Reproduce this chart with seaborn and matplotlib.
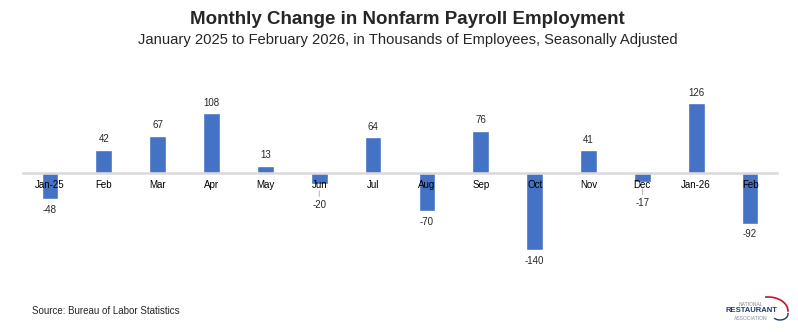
import matplotlib
matplotlib.use("Agg")
import matplotlib.pyplot as plt
import seaborn as sns
import pandas as pd
from matplotlib.patches import Arc

months = ["Jan-25", "Feb", "Mar", "Apr", "May", "Jun", "Jul", "Aug",
          "Sep", "Oct", "Nov", "Dec", "Jan-26", "Feb"]
changes = [-48, 42, 67, 108, 13, -20, 64, -70, 76, -140, 41, -17, 126, -92]

title = "Monthly Change in Nonfarm Payroll Employment"
subtitle = "January 2025 to February 2026, in Thousands of Employees, Seasonally Adjusted"
source = "Source: Bureau of Labor Statistics"

sns.set_theme(style="white")
plt.rcParams["font.family"] = ["Liberation Sans", "DejaVu Sans"]
narrow = ["Liberation Sans Narrow", "Liberation Sans", "DejaVu Sans"]

df = pd.DataFrame({"pos": list(range(len(months))), "change": changes})

fig = plt.figure(figsize=(7.98, 3.32), dpi=100)
ax = fig.add_axes([23 / 798, 1 - 290 / 332, 754 / 798, 230 / 332])

sns.barplot(data=df, x="pos", y="change", color="#4472C4", saturation=1,
            width=0.31, ax=ax, native_scale=False)

ax.set_xlim(-0.5, len(months) - 0.5)
ax.set_ylim(-212, 204)
for s in ["top", "right", "left"]:
    ax.spines[s].set_visible(False)
ax.spines["bottom"].set_position(("data", 0))
ax.spines["bottom"].set_color("#d9d9d9")
ax.spines["bottom"].set_linewidth(1.8)
ax.set_axisbelow(False)
ax.set_yticks([])
ax.set_xticks(range(len(months)))
ax.set_xticklabels(months, fontsize=7, color="#000000")
ax.tick_params(axis="x", length=0, pad=5)
ax.set_xlabel("")
ax.set_ylabel("")

for i, v in enumerate(changes):
    if v >= 0:
        ax.annotate(str(v), (i, v), xytext=(0, 4), textcoords="offset points",
                    ha="center", va="bottom", fontsize=7)
    elif v > -30:
        ax.annotate(str(v), (i, v), xytext=(0, -15), textcoords="offset points",
                    ha="center", va="center", fontsize=7,
                    arrowprops=dict(arrowstyle="-", color="#a6a6a6", lw=0.6,
                                    shrinkA=0, shrinkB=5))
    else:
        ax.annotate(str(v), (i, v), xytext=(0, -4), textcoords="offset points",
                    ha="center", va="top", fontsize=7)

fig.text(0.511, 1 - 19 / 332, title, ha="center", va="center",
         fontsize=13.5, fontweight="bold", family=narrow)
fig.text(0.511, 1 - 40 / 332, subtitle, ha="center", va="center",
         fontsize=10.6, family=narrow)
fig.text(31.5 / 798, 1 - 311 / 332, source, ha="left", va="center", fontsize=7)

# logo
fig.text(751 / 798, 1 - 304 / 332, "NATIONAL", ha="center", va="center",
         fontsize=3.6, color="#7f8c9a")
fig.text(751 / 798, 1 - 311 / 332, "RESTAURANT", ha="center", va="center",
         fontsize=5.5, fontweight="bold", color="#1f3a6e")
fig.text(751 / 798, 1 - 318 / 332, "ASSOCIATION", ha="center", va="center",
         fontsize=3.6, color="#7f8c9a")
arc = Arc((768 / 798, 1 - 311 / 332), 40 / 798, 28 / 332, theta1=-5, theta2=95,
          transform=fig.transFigure, color="#c8102e", lw=1.2)
fig.add_artist(arc)
arc2 = Arc((780 / 798, 1 - 314 / 332), 16 / 798, 12 / 332, theta1=-120, theta2=20,
           transform=fig.transFigure, color="#1f3a6e", lw=1.0)
fig.add_artist(arc2)

fig.savefig("out.png", dpi=100)
